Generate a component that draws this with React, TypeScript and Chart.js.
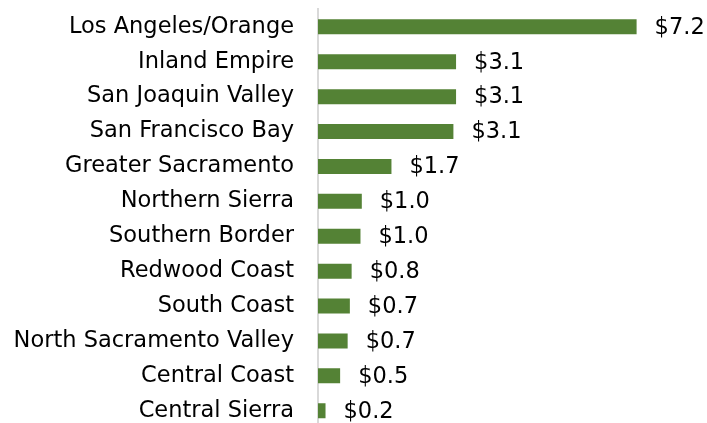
import React, { useEffect, useRef } from "react";
import { Chart, registerables } from "chart.js";

Chart.register(...registerables);

const categories = [
  "Los Angeles/Orange",
  "Inland Empire",
  "San Joaquin Valley",
  "San Francisco Bay",
  "Greater Sacramento",
  "Northern Sierra",
  "Southern Border",
  "Redwood Coast",
  "South Coast",
  "North Sacramento Valley",
  "Central Coast",
  "Central Sierra",
];

const values = [7.2, 3.12, 3.12, 3.06, 1.66, 0.99, 0.96, 0.76, 0.72, 0.67, 0.5, 0.17];

const FONT = "'DejaVu Sans', sans-serif";
const FONT_SIZE = 22.5;

const valueLabels = {
  id: "valueLabels",
  afterDatasetsDraw(chart: any) {
    const ctx = chart.ctx;
    const meta = chart.getDatasetMeta(0);
    ctx.save();
    ctx.font = `${FONT_SIZE}px ${FONT}`;
    ctx.fillStyle = "#000000";
    ctx.textAlign = "left";
    ctx.textBaseline = "middle";
    meta.data.forEach((bar: any, i: number) => {
      ctx.fillText("$" + values[i].toFixed(1), bar.x + 18, bar.y + 1);
    });
    ctx.restore();
  },
};

export default function App() {
  const ref = useRef<HTMLCanvasElement>(null);
  useEffect(() => {
    if (!ref.current) return;
    const chart = new Chart(ref.current, {
      type: "bar",
      data: {
        labels: categories,
        datasets: [
          {
            data: values,
            backgroundColor: "#548235",
            borderWidth: 0,
            barPercentage: 0.43,
            categoryPercentage: 1,
          },
        ],
      },
      options: {
        indexAxis: "y",
        animation: false,
        responsive: false,
        maintainAspectRatio: false,
        layout: { padding: { top: 9.4, right: 35, bottom: 11.8, left: 0 } },
        plugins: { legend: { display: false }, tooltip: { enabled: false } },
        scales: {
          x: { display: false, min: 0, max: 8 },
          y: {
            grid: { display: false, drawTicks: false },
            border: { display: true, color: "#d9d9d9", width: 2 },
            ticks: {
              color: "#000000",
              padding: 24,
              font: { family: FONT, size: FONT_SIZE },
            },
            afterFit: (scale: any) => {
              scale.width = 318;
              scale.paddingTop = 0;
              scale.paddingBottom = 0;
            },
          },
        },
      },
      plugins: [valueLabels],
    });
    return () => chart.destroy();
  }, []);
  return (
    <div style={{ position: "fixed", left: 0, top: 0, width: 707, height: 423, overflow: "hidden", background: "#fff" }}>
      <canvas ref={ref} width={707} height={440} style={{ display: "block", width: 707, height: 440 }} />
    </div>
  );
}
